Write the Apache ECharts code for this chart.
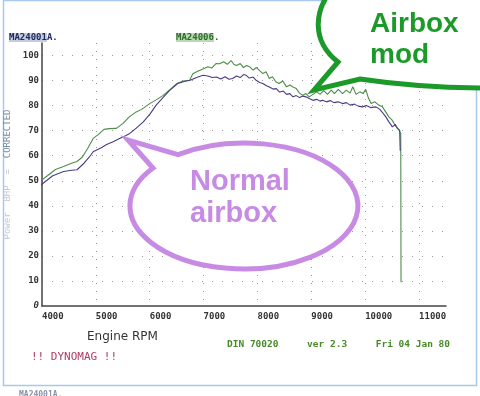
<!DOCTYPE html>
<html><head><meta charset="utf-8">
<script src="https://cdn.jsdelivr.net/npm/echarts@6/dist/echarts.min.js"></script>
<style>html,body{margin:0;padding:0;background:#fff}#c{width:480px;height:396px}</style>
</head><body><div id="c"></div>
<script>
// ---- data ----
const greenRpm = [3960,4100,4250,4400,4550,4650,4750,4850,4950,5050,5150,5250,5380,5500,5620,5750,5850,6000,6120,6250,6380,6500,6620,6740,6800,6900,7000,7080,7150,7230,7300,7370,7440,7510,7560,7610,7680,7740,7800,7860,7920,7980,8040,8100,8160,8220,8280,8340,8400,8470,8540,8600,8660,8720,8780,8840,8900,8960,9030,9100,9160,9230,9300,9370,9430,9500,9580,9650,9720,9770,9830,9900,9960,10010,10060,10110,10180,10250,10320,10380,10440,10500,10560,10620,10660,10665];
const greenVal = [49.7,52,54.5,55.7,57,57.7,59.5,63,66.9,68.5,70.5,70.8,70.9,72.8,75.5,77.5,78.5,80.8,82.3,84.1,86.5,88.8,89.8,90.1,92.7,93.8,94.7,95.5,95.0,96.8,96.7,97.5,96.5,98,96.5,96,96.8,95.2,96,95.4,94.2,95.2,94,92.8,93.5,90.8,91.5,89.5,88.8,89.8,87.5,88.2,87.4,86.8,85,84.1,84.8,83.5,84.5,85.5,84.5,86,84.5,86.2,84.8,86.5,84.8,86.2,85,87.5,84.5,85.5,84.8,86.5,83,80.8,81.5,80.2,79.5,77.5,75.5,74.2,72,70.5,68.9,9.5];
const purpleRpm = [3910,4050,4200,4400,4550,4650,4780,4880,4950,5100,5200,5320,5450,5550,5630,5750,5880,6000,6120,6250,6370,6520,6640,6750,6870,6990,7080,7160,7240,7320,7400,7470,7540,7610,7680,7740,7790,7850,7920,7975,8040,8100,8160,8220,8290,8350,8410,8480,8540,8600,8660,8720,8780,8840,8900,8960,9030,9100,9160,9210,9280,9350,9420,9500,9580,9650,9720,9800,9870,9950,10020,10100,10200,10270,10330,10383,10440,10505,10560,10600,10640,10650];
const purpleVal = [47.1,49.5,52,53.7,54.2,54.4,57,59.5,61.6,63.2,64.5,65.6,67,68,68.9,71,73.5,76.5,80.2,83.3,86.1,88.8,89.6,90.1,91.2,92.1,91.8,91.2,91.4,90.6,91.5,90.5,90.8,91.8,91.2,92.4,92.1,91,91.4,90.1,89.2,88.8,88,87.4,86.6,86.8,85.4,85.8,84.5,84.8,83.5,84,83.2,83.8,83.5,82.8,82.1,82.5,81.8,82.1,81.5,82,81.2,81.5,80.8,81.2,80.2,80.6,79.8,79.5,80,79.2,79.5,78.5,77,75.5,73.5,71.5,72.5,70.8,70.2,62];
const xTicks = {min: 4000, max: 11500, step: 1000};
const yTicks = {min: 0, max: 105, step: 10};
const seriesNames = ['MA24006.', 'MA24001A.'];

echarts.graphic.registerShape('purpleBubble', echarts.graphic.extendPath('M 178,154.6 A 114 63 0 1 1 153,168 L 128,140 Z', {}));
echarts.graphic.registerShape('greenBubble', echarts.graphic.extendPath('M 330,-8 C 316,10 310,40 338,62 L 314,90 L 360,79 C 400,85 440,88 490,88 L 490,-8 Z', {}));

const chart = echarts.init(document.getElementById('c'), null, {renderer: 'canvas'});
const zip = (a, b) => a.map((v, i) => [v, b[i]]);
const mono = 'DejaVu Sans Mono';
const grid = '#9a9a9a';

chart.setOption({
  animation: false,
  backgroundColor: '#fff',
  grid: {left: 42, right: 34, top: 43, bottom: 90, containLabel: false, outerBoundsMode: 'none'},
  title: [
    {text: '{h|MA24001}A.', left: 4, top: 28, textStyle: {fontFamily: mono, fontWeight: 'bold', fontSize: 9, color: '#1f2a5c',
      rich: {h: {fontFamily: mono, fontWeight: 'bold', fontSize: 9, color: '#1f2a5c', backgroundColor: '#c3cce0'}}}},
    {text: '{h|MA24006}.', left: 171, top: 28, textStyle: {fontFamily: mono, fontWeight: 'bold', fontSize: 9, color: '#2f6a2c',
      rich: {h: {fontFamily: mono, fontWeight: 'bold', fontSize: 9, color: '#2f6a2c', backgroundColor: '#b9d9b3'}}}},
    {text: 'Engine RPM', left: 82, top: 326, textStyle: {fontFamily: 'DejaVu Sans', fontWeight: 'normal', fontSize: 12, color: '#333'}},
    {text: '!! DYNOMAG !!', left: 26, top: 347, textStyle: {fontFamily: mono, fontWeight: 'normal', fontSize: 11, color: '#b23a62'}},
    {text: 'DIN 70020     ver 2.3     Fri 04 Jan 80', left: 222, top: 335, textStyle: {fontFamily: mono, fontWeight: 'bold', fontSize: 9.5, color: '#4a8a2a'}},
    {text: 'MA24001A.', left: 14, top: 386, textStyle: {fontFamily: mono, fontWeight: 'bold', fontSize: 8, color: '#8a93aa'}}
  ],
  xAxis: {
    type: 'value', min: xTicks.min, max: xTicks.max, interval: xTicks.step,
    axisLine: {lineStyle: {color: '#444', width: 1.5}},
    axisTick: {show: false},
    axisLabel: {showMaxLabel: false, align: 'left', margin: 6, fontFamily: mono, fontWeight: 'bold', fontSize: 9, color: '#333',
      formatter: v => String(v)},
    splitLine: {show: true, showMinLine: false, showMaxLine: false, lineStyle: {color: grid, width: 1, type: [1, 7]}}
  },
  yAxis: {
    type: 'value', min: yTicks.min, max: yTicks.max, interval: yTicks.step,
    name: '{f|Power  BHP  =  }CORRECTED', nameLocation: 'middle', nameRotate: 90, nameGap: 30,
    nameTextStyle: {fontFamily: mono, fontSize: 9, color: '#7a8aa0', rich: {f: {fontFamily: mono, fontSize: 9, color: '#c0c8d4'}}},
    axisLine: {show: true, lineStyle: {color: '#444', width: 1.5}},
    axisTick: {show: false},
    axisLabel: {showMaxLabel: false, margin: 3, fontFamily: mono, fontWeight: 'bold', fontSize: 9, color: '#333',
      formatter: v => v === 0 ? '{i|0}' : String(v), rich: {i: {fontStyle: 'italic', fontFamily: mono, fontSize: 9, color: '#333'}}},
    splitLine: {show: true, showMinLine: false, showMaxLine: false, lineStyle: {color: grid, width: 1, type: [1, 9]}}
  },
  series: [
    {name: seriesNames[0], type: 'line', data: zip(greenRpm, greenVal), showSymbol: false, z: 3,
      lineStyle: {color: '#4e8c4a', width: 1.1}},
    {name: seriesNames[1], type: 'line', data: zip(purpleRpm, purpleVal), showSymbol: false, z: 4,
      lineStyle: {color: '#4a3c84', width: 1.1}}
  ],
  graphic: [
    {type: 'rect', z: 0, silent: true, shape: {x: 3.5, y: 0.5, width: 473, height: 385}, style: {fill: 'none', stroke: '#a9c8ef', lineWidth: 1.5}},
    {type: 'purpleBubble', z: 100, silent: true,
      style: {fill: '#fff', stroke: '#c78be3', lineWidth: 5, lineJoin: 'miter'}},
    {type: 'text', z: 101, silent: true, left: 190, top: 166,
      style: {text: 'Normal\nairbox', font: 'bold 29px "Liberation Sans"', fill: '#c78be3', lineHeight: 32}},
    {type: 'greenBubble', z: 100, silent: true,
      style: {fill: '#fff', stroke: '#1b9a29', lineWidth: 5, lineJoin: 'miter'}},
    {type: 'text', z: 101, silent: true, left: 370, top: 9,
      style: {text: 'Airbox\nmod', font: 'bold 28px "Liberation Sans"', fill: '#1b9a29', lineHeight: 31}}
  ]
});
</script></body></html>
